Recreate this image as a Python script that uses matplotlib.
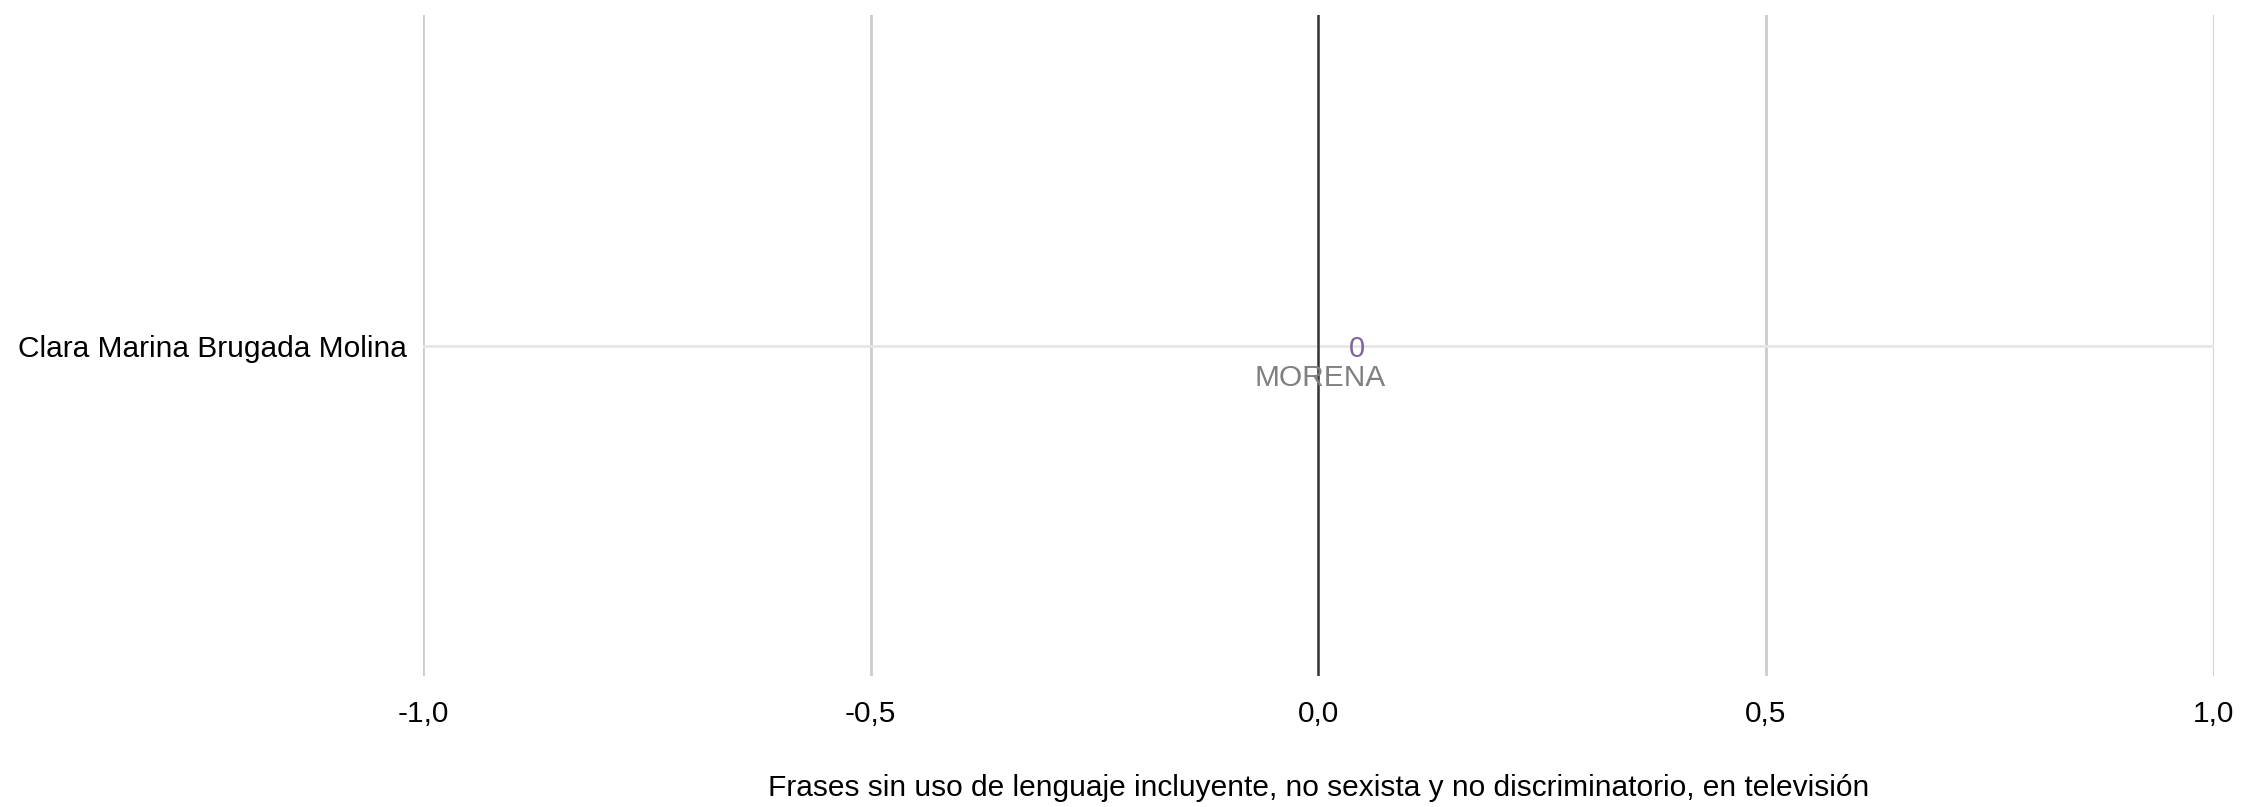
import numpy as np
import matplotlib.pyplot as plt

plt.rcParams['font.family'] = ['Liberation Sans', 'DejaVu Sans']

# datos
nombres = ["Clara Marina Brugada Molina"]
partidos = ["MORENA"]
valores = [0]
ticks = [-1.0, -0.5, 0.0, 0.5, 1.0]
tick_labels = ["-1,0", "-0,5", "0,0", "0,5", "1,0"]

fig = plt.figure(figsize=(22.41, 8.07), dpi=100)
ax = fig.add_axes([0.1888, 0.162, 0.799, 0.819])

y = np.arange(len(nombres))
ax.barh(y, valores, color="#8064a2", height=0.6)
ax.set_xlim(-1, 1)
ax.set_ylim(-0.5, 0.5)

for xv in ticks:
    if xv != 0:
        ax.axvline(xv, color="#cccccc", lw=2, zorder=0)
ax.axvline(0, color="#333333", lw=1.8, zorder=1)
for yi in y:
    ax.axhline(yi, color="#e6e6e6", lw=2, zorder=0)

for yi, v, p in zip(y, valores, partidos):
    ax.text(v + 0.043, yi - 0.005, str(v), color="#8064a2", fontsize=21,
            ha="center", va="center")
    ax.text(v + 0.002, yi - 0.028, p, color="#808080", fontsize=21.5,
            ha="center", va="top")

ax.set_xticks(ticks)
ax.set_xticklabels(tick_labels, fontsize=21.5)
ax.set_yticks(y)
ax.set_yticklabels(nombres, fontsize=21.5)
ax.tick_params(length=0, pad=12)
ax.tick_params(axis="x", pad=17)
for s in ax.spines.values():
    s.set_visible(False)
ax.set_xlabel("Frases sin uso de lenguaje incluyente, no sexista y no discriminatorio, en televisión",
              fontsize=21.5, labelpad=33)

plt.savefig("out.png", dpi=100)
